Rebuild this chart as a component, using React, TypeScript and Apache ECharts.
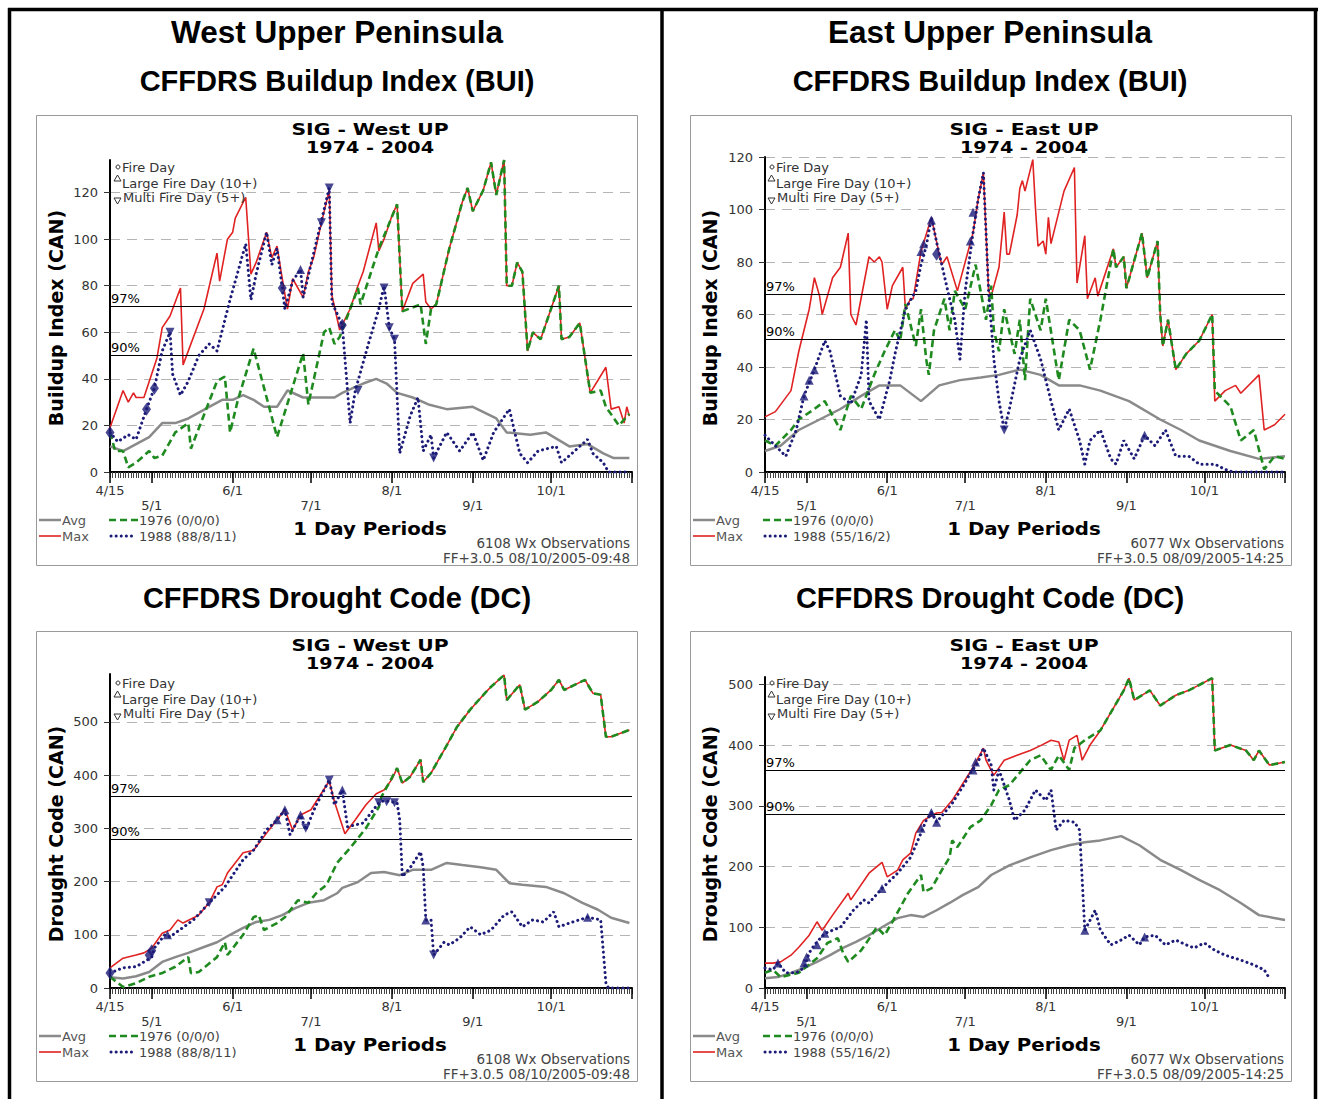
import React, { useEffect, useRef } from 'react';
import * as echarts from 'echarts';

// ---- axis ticks (days since 4/15) ----
const DATE_TICK_DAYS = [0, 16, 47, 77, 108, 139, 169];
const DATE_TICK_LABELS = ['4/15', '5/1', '6/1', '7/1', '8/1', '9/1', '10/1'];
const MONTH_TICK_DAYS = [0, 16, 47, 77, 108, 139, 169, 200];

// ---- West UP BUI ----
const WB_AVG = [[0,11],[5,9],[10,12],[15,15],[20,21],[25,21],[30,23],[38,28],[43,31],[47,31],[51,33],[55,31],[59,28],[64,28],[68,35],[74,32],[80,32],[86,32],[89,34],[93,36],[97,38],[102,40],[106,38],[110,34],[116,32],[122,29],[129,27],[139,28],[148,23],[152,17],[161,16],[167,17],[176,11],[183,12],[189,8],[193,6],[199,6]];
const WB_MAX = [[0,19],[5,35],[7,30],[9,34],[10,32],[13,32],[18,49],[20,62],[23,67],[27,79],[28,46],[36,70],[41,94],[42,82],[45,100],[47,103],[48,109],[52,118],[54,85],[56,90],[60,103],[62,92],[64,97],[66,83],[68,70],[70,83],[74,75],[76,86],[78,92],[81,107],[84,121],[85,76],[88,61],[92,70],[95,80],[97,86],[102,107],[103,95],[105,100],[108,110],[110,115],[112,69],[116,81],[120,85],[121,73],[123,70],[125,72],[130,96],[135,116],[137,122],[139,112],[143,121],[146,133],[148,119],[151,134],[152,80],[154,80],[156,90],[158,86],[160,52],[162,60],[165,57],[172,80],[173,57],[176,58],[180,64],[184,34],[190,45],[192,27],[195,28],[197,21],[198,28],[199,24]];
const WB_1976 = [[0,17],[2,9],[5,9],[7,2],[10,4],[15,9],[17,6],[20,7],[25,17],[30,21],[31,10],[41,39],[44,41],[46,17],[49,31],[55,53],[60,32],[64,15],[74,51],[76,29],[82,60],[84,62],[86,55],[88,58],[91,67],[95,79],[96,72],[103,96],[110,115],[112,69],[119,72],[121,55],[123,70],[125,72],[130,96],[135,116],[137,122],[139,112],[143,121],[146,133],[148,119],[151,134],[152,80],[154,80],[156,90],[158,86],[160,52],[162,60],[165,57],[172,80],[173,57],[176,58],[180,64],[184,34],[188,35],[190,28],[195,20],[199,25]];
const WB_1988 = [[0,17],[3,13],[7,16],[10,14],[14,27],[17,36],[20,52],[23,60],[24,42],[27,33],[30,39],[34,50],[38,55],[41,52],[46,74],[51,94],[52,98],[54,74],[56,85],[60,103],[62,89],[64,96],[66,79],[67,70],[70,82],[73,87],[74,75],[84,122],[85,73],[89,63],[92,21],[94,35],[99,55],[103,70],[105,80],[107,62],[109,57],[111,8],[115,24],[118,32],[120,9],[123,16],[124,6],[129,17],[134,9],[139,17],[143,5],[147,17],[153,27],[157,8],[160,4],[164,9],[171,11],[173,4],[179,10],[183,14],[185,8],[189,4],[191,0],[199,0]];
const WB_MARKERS = [[0,17,'dia'],[14,27,'dia'],[17,36,'dia'],[23,60,'inv'],[66,79,'dia'],[73,87,'tri'],[81,107,'inv'],[84,122,'inv'],[89,63,'dia'],[95,35,'inv'],[105,79,'inv'],[107,62,'inv'],[109,57,'inv'],[124,6,'inv']];

// ---- East UP BUI ----
const EB_AVG = [[0,8],[6,10],[13,16],[21,20],[29,24],[37,29],[44,33],[52,33],[60,27],[67,33],[75,35],[83,36],[90,37],[98,39],[106,37],[113,33],[121,33],[129,31],[140,27],[152,20],[160,16],[167,12],[179,8],[190,5],[200,6]];
const EB_MAX = [[0,21],[4,23],[10,31],[13,46],[17,62],[19,74],[21,67],[22,60],[26,74],[29,78],[32,91],[33,60],[35,56],[40,82],[42,80],[44,82],[45,80],[47,62],[49,71],[53,78],[54,62],[56,66],[57,66],[60,84],[64,97],[67,83],[68,79],[70,82],[74,69],[80,91],[82,104],[84,114],[86,69],[87,67],[90,78],[92,99],[93,83],[94,83],[97,98],[98,108],[99,111],[100,107],[103,119],[104,101],[105,86],[107,88],[108,83],[109,97],[110,87],[115,107],[119,116],[120,72],[123,90],[124,66],[127,74],[128,67],[134,85],[135,78],[138,82],[139,70],[145,91],[147,74],[151,88],[152,60],[153,48],[155,58],[158,39],[162,45],[167,50],[171,58],[172,60],[173,27],[177,31],[181,33],[183,30],[190,37],[192,16],[196,18],[200,22]];
const EB_1976 = [[0,12],[4,10],[10,16],[13,20],[19,24],[23,27],[29,16],[33,29],[37,24],[42,37],[46,46],[50,54],[52,50],[54,64],[58,48],[60,62],[62,43],[63,37],[65,54],[69,66],[71,54],[73,69],[77,62],[81,79],[85,58],[87,71],[88,54],[90,46],[92,62],[96,45],[98,58],[100,35],[102,66],[106,54],[108,66],[112,41],[113,35],[117,58],[121,54],[125,39],[129,58],[134,85],[135,78],[138,82],[139,70],[145,91],[147,74],[151,88],[152,60],[153,48],[155,58],[158,39],[162,45],[167,50],[171,58],[172,60],[173,31],[179,25],[183,12],[188,16],[192,1],[196,6],[200,5]];
const EB_1988 = [[0,14],[4,10],[8,6],[12,16],[15,29],[19,39],[23,50],[25,46],[29,29],[33,26],[37,37],[39,58],[40,27],[44,20],[48,35],[50,45],[54,62],[58,69],[60,79],[62,86],[64,97],[67,83],[68,79],[71,66],[73,58],[75,43],[77,69],[80,91],[82,104],[84,114],[86,69],[88,43],[90,27],[92,16],[94,24],[98,43],[102,54],[106,43],[110,27],[113,16],[117,24],[121,12],[123,3],[125,12],[129,16],[133,5],[135,3],[138,12],[142,5],[146,14],[150,10],[154,16],[158,6],[163,6],[167,3],[173,3],[177,1],[180,0],[200,0]];
const EB_MARKERS = [[15,29,'tri'],[17,35,'tri'],[19,39,'tri'],[60,84,'tri'],[61,87,'tri'],[64,96,'tri'],[66,83,'dia'],[79,88,'tri'],[80,99,'tri'],[92,16,'inv'],[146,14,'tri']];

// ---- West UP DC ----
const WD_AVG = [[0,20],[5,18],[10,22],[15,30],[20,49],[25,58],[30,66],[36,77],[41,86],[46,100],[51,113],[56,124],[61,128],[66,137],[71,150],[76,160],[82,165],[87,178],[89,188],[95,199],[100,216],[105,218],[111,212],[116,222],[123,222],[129,235],[135,231],[142,227],[148,222],[153,197],[158,194],[167,190],[174,178],[181,160],[187,147],[192,132],[199,122]];
const WD_MAX = [[0,38],[5,56],[10,62],[13,66],[16,75],[20,103],[23,109],[26,128],[28,122],[32,132],[34,137],[38,160],[41,190],[43,194],[45,216],[51,254],[55,259],[60,291],[64,316],[67,335],[70,297],[73,325],[77,335],[84,389],[86,350],[90,290],[94,316],[98,344],[102,365],[105,372],[108,392],[110,413],[112,385],[115,397],[119,429],[120,387],[123,404],[128,447],[133,491],[138,523],[144,556],[146,566],[151,588],[152,541],[157,570],[159,523],[164,538],[169,560],[172,579],[174,560],[182,579],[185,554],[188,551],[190,472],[192,472],[199,485]];
const WD_1976 = [[0,21],[5,2],[10,9],[15,21],[20,28],[25,40],[30,58],[31,28],[34,30],[41,58],[44,86],[45,62],[51,100],[55,133],[57,137],[59,109],[64,122],[67,133],[72,165],[76,160],[79,178],[83,194],[87,235],[92,263],[98,300],[103,340],[104,359],[110,413],[112,385],[115,397],[119,429],[120,387],[123,404],[128,447],[133,491],[138,523],[144,556],[146,566],[151,588],[152,541],[157,570],[159,523],[164,538],[169,560],[172,579],[174,560],[182,579],[185,554],[188,551],[190,472],[192,472],[199,485]];
const WD_1988 = [[0,28],[5,38],[10,40],[16,58],[17,75],[21,100],[23,96],[32,128],[38,160],[44,190],[51,241],[55,259],[60,297],[64,316],[67,335],[69,288],[73,325],[75,297],[79,344],[80,353],[84,391],[86,344],[89,372],[91,303],[97,310],[103,348],[105,352],[110,348],[111,316],[112,209],[115,226],[119,256],[120,227],[121,128],[123,128],[124,62],[128,86],[130,81],[134,94],[138,115],[142,100],[146,109],[151,137],[154,143],[158,115],[162,128],[166,124],[170,143],[172,115],[176,122],[183,133],[188,128],[190,9],[191,0],[199,0]];
const WD_MARKERS = [[0,28,'dia'],[15,62,'dia'],[16,70,'dia'],[22,100,'tri'],[38,160,'inv'],[64,316,'tri'],[67,335,'tri'],[73,325,'tri'],[75,300,'inv'],[84,391,'inv'],[89,372,'tri'],[103,348,'inv'],[106,350,'inv'],[109,348,'inv'],[121,128,'tri'],[124,62,'inv'],[183,133,'tri']];

// ---- East UP DC ----
const ED_AVG = [[0,16],[5,18],[10,25],[15,33],[20,43],[25,54],[30,66],[35,76],[40,87],[45,100],[51,115],[56,120],[61,117],[66,128],[71,140],[76,153],[82,166],[87,186],[94,202],[102,215],[110,227],[117,235],[123,240],[129,243],[137,250],[144,235],[152,211],[160,194],[167,178],[175,161],[183,140],[190,120],[200,112]];
const ED_MAX = [[0,41],[3,41],[6,43],[10,54],[13,67],[17,87],[20,109],[22,95],[26,120],[32,156],[33,145],[40,189],[45,207],[47,183],[51,194],[53,211],[56,222],[58,255],[61,276],[63,281],[66,288],[68,289],[72,309],[80,363],[84,395],[85,375],[88,350],[92,375],[98,385],[102,391],[106,399],[110,408],[113,405],[115,375],[117,408],[120,416],[122,375],[125,400],[129,424],[138,490],[140,510],[142,474],[148,490],[152,465],[158,482],[163,490],[172,510],[173,391],[179,400],[185,391],[188,375],[190,391],[194,367],[200,372]];
const ED_1976 = [[0,25],[3,30],[6,18],[13,25],[20,49],[24,74],[28,82],[30,58],[32,43],[37,62],[41,87],[43,100],[46,87],[49,109],[55,156],[60,186],[61,158],[64,164],[68,194],[71,215],[72,243],[74,232],[79,265],[83,276],[87,301],[90,326],[94,334],[102,375],[106,383],[110,359],[113,383],[117,359],[119,395],[123,408],[129,424],[138,490],[140,510],[142,474],[148,490],[152,465],[158,482],[163,490],[172,510],[173,391],[179,400],[185,391],[188,375],[190,391],[194,367],[200,372]];
const ED_1988 = [[0,33],[3,30],[5,41],[8,25],[12,25],[15,33],[17,58],[19,71],[23,90],[26,95],[29,100],[34,128],[38,145],[40,140],[45,164],[51,189],[56,215],[60,255],[62,276],[63,281],[64,289],[66,273],[72,304],[76,331],[79,354],[82,372],[84,395],[87,367],[88,326],[90,359],[94,309],[96,276],[100,293],[104,326],[108,309],[110,326],[112,260],[115,276],[119,273],[121,260],[123,95],[127,128],[129,95],[133,71],[137,79],[140,87],[144,71],[146,84],[150,87],[154,71],[158,79],[162,71],[165,66],[169,74],[173,62],[177,54],[183,46],[188,38],[192,30],[194,16]];
const ED_MARKERS = [[5,41,'tri'],[15,41,'tri'],[16,51,'tri'],[20,71,'tri'],[23,90,'tri'],[45,164,'tri'],[60,263,'tri'],[64,289,'tri'],[66,273,'tri'],[80,359,'tri'],[81,372,'tri'],[123,95,'tri'],[146,84,'tri']];

const SMALL = 'DejaVu Sans';
const HEAD = '"Liberation Sans", Arial, sans-serif';
const NAVY = '#1c1c78';
const RED = '#e02222';
const GREEN = '#1f8a1f';
const GRAY = '#8a8a8a';

const PANELS = [
  { bx: 36, by: 115, left: 110, top: 160, w: 522, h: 312, ymax: 134, yint: 20, p97: 71.3, p90: 50.2,
    yName: 'Buildup Index (CAN)', title: 'SIG - West UP', obs: '6108 Wx Observations', stamp: 'FF+3.0.5 08/10/2005-09:48',
    leg88: '1988 (88/8/11)', avg: WB_AVG, max: WB_MAX, y76: WB_1976, y88: WB_1988, mk: WB_MARKERS },
  { bx: 690, by: 115, left: 765, top: 157, w: 520, h: 315, ymax: 120, yint: 20, p97: 67.8, p90: 50.7,
    yName: 'Buildup Index (CAN)', title: 'SIG - East UP', obs: '6077 Wx Observations', stamp: 'FF+3.0.5 08/09/2005-14:25',
    leg88: '1988 (55/16/2)', avg: EB_AVG, max: EB_MAX, y76: EB_1976, y88: EB_1988, mk: EB_MARKERS },
  { bx: 36, by: 631, left: 110, top: 674, w: 522, h: 314, ymax: 590, yint: 100, p97: 361, p90: 280,
    yName: 'Drought Code (CAN)', title: 'SIG - West UP', obs: '6108 Wx Observations', stamp: 'FF+3.0.5 08/10/2005-09:48',
    leg88: '1988 (88/8/11)', avg: WD_AVG, max: WD_MAX, y76: WD_1976, y88: WD_1988, mk: WD_MARKERS },
  { bx: 690, by: 631, left: 765, top: 677, w: 520, h: 311, ymax: 512, yint: 100, p97: 358.6, p90: 286,
    yName: 'Drought Code (CAN)', title: 'SIG - East UP', obs: '6077 Wx Observations', stamp: 'FF+3.0.5 08/09/2005-14:25',
    leg88: '1988 (55/16/2)', avg: ED_AVG, max: ED_MAX, y76: ED_1976, y88: ED_1988, mk: ED_MARKERS },
];

function txt(x: number, y: number, text: string, font: string, fill = '#000', align = 'left', extra: any = {}) {
  return { type: 'text', x, y, z: 20, ...extra, style: { text, font, fill, align, verticalAlign: 'middle' } };
}

function buildOption() {
  const grid: any[] = [];
  const xAxis: any[] = [];
  const yAxis: any[] = [];
  const series: any[] = [];
  const graphic: any[] = [];

  // page frame
  graphic.push({ type: 'line', shape: { x1: 8, y1: 9.5, x2: 1318, y2: 9.5 }, style: { stroke: '#000', lineWidth: 3.5 } });
  [9.5, 662, 1315.5].forEach((x) =>
    graphic.push({ type: 'line', shape: { x1: x, y1: 8, x2: x, y2: 1099 }, style: { stroke: '#000', lineWidth: 3.5 } })
  );
  // headings
  [[337, 'West Upper Peninsula'], [990, 'East Upper Peninsula']].forEach(([x, t]: any) => {
    graphic.push(txt(x, 32, t, `bold 31.5px ${HEAD}`, '#000', 'center'));
    graphic.push(txt(x, 81, 'CFFDRS Buildup Index (BUI)', `bold 29px ${HEAD}`, '#000', 'center'));
    graphic.push(txt(x, 598, 'CFFDRS Drought Code (DC)', `bold 29px ${HEAD}`, '#000', 'center'));
  });

  PANELS.forEach((p, i) => {
    const { bx, by } = p;
    grid.push({ left: p.left, top: p.top, width: p.w, height: p.h, containLabel: false });
    const yTicks: number[] = [];
    for (let v = 0; v <= p.ymax; v += p.yint) yTicks.push(v);

    xAxis.push({
      type: 'value', gridIndex: i, position: 'bottom', min: 0, max: 200, interval: 1,
      axisLine: { show: true, onZero: false, lineStyle: { color: '#000', width: 2 } },
      axisTick: { show: true, length: 6, lineStyle: { color: '#444', width: 1 } },
      axisLabel: {
        show: true, customValues: DATE_TICK_DAYS, margin: 11, lineHeight: 15,
        fontSize: 13, fontFamily: SMALL, color: '#333',
        formatter: (v: number) => {
          const k = DATE_TICK_DAYS.indexOf(v);
          if (k < 0) return '';
          return k % 2 ? '\n' + DATE_TICK_LABELS[k] : DATE_TICK_LABELS[k];
        },
      },
      splitLine: { show: false },
    });
    xAxis.push({
      type: 'value', gridIndex: i, position: 'bottom', min: 0, max: 200, interval: 1,
      axisLine: { show: false },
      axisTick: { show: true, customValues: MONTH_TICK_DAYS, length: 11, lineStyle: { color: '#000', width: 1.5 } },
      axisLabel: { show: false },
      splitLine: { show: false },
    });
    yAxis.push({
      type: 'value', gridIndex: i, min: 0, max: p.ymax, interval: p.yint,
      axisLine: { show: true, onZero: false, lineStyle: { color: '#000', width: 2 } },
      axisTick: { show: true, customValues: yTicks, length: 6, lineStyle: { color: '#333', width: 1 } },
      axisLabel: { show: true, customValues: yTicks, margin: 12, fontSize: 13, fontFamily: SMALL, color: '#333' },
      splitLine: { show: true, showMinLine: false, lineStyle: { color: '#b4b4b4', width: 1, type: [10, 7] } },
    });

    const xi = 2 * i;
    series.push({
      type: 'line', xAxisIndex: xi, yAxisIndex: i, data: p.avg, showSymbol: false, symbol: 'none',
      lineStyle: { color: GRAY, width: 2.5 }, z: 2,
      markLine: {
        silent: true, symbol: 'none', animation: false,
        lineStyle: { color: '#000', type: 'solid', width: 1 },
        label: { show: true, position: 'insideStartTop', formatter: (q: any) => q.name, color: '#000', fontSize: 13, fontFamily: SMALL, distance: [1, 1] },
        emphasis: { disabled: true },
        data: [{ name: '97%', yAxis: p.p97 }, { name: '90%', yAxis: p.p90 }],
      },
    });
    series.push({ type: 'line', xAxisIndex: xi, yAxisIndex: i, data: p.max, symbol: 'none', lineStyle: { color: RED, width: 1.6 }, z: 3 });
    series.push({ type: 'line', xAxisIndex: xi, yAxisIndex: i, data: p.y76, symbol: 'none', lineStyle: { color: GREEN, width: 2.6, type: [7, 4] }, z: 4 });
    series.push({ type: 'line', xAxisIndex: xi, yAxisIndex: i, data: p.y88, symbol: 'none', lineStyle: { color: NAVY, width: 3, type: [0.1, 5], cap: 'round' }, z: 5 });
    series.push({
      type: 'scatter', xAxisIndex: xi, yAxisIndex: i, z: 6,
      itemStyle: { color: NAVY },
      data: p.mk.map((m: any) => ({
        value: [m[0], m[1]],
        symbol: m[2] === 'dia' ? 'diamond' : 'triangle',
        symbolRotate: m[2] === 'inv' ? 180 : 0,
        symbolSize: m[2] === 'dia' ? [9, 13] : 9,
      })),
    });

    // panel box
    graphic.push({ type: 'rect', shape: { x: bx + 0.5, y: by + 0.5, width: 601, height: 450 }, style: { fill: 'none', stroke: '#9a9a9a', lineWidth: 1 } });
    // chart title lines (wide bold face, stretched horizontally like the original)
    graphic.push(txt(bx + 334, by + 14, p.title, `bold 16px "${SMALL}"`, '#000', 'center', { scaleX: 1.27 }));
    graphic.push(txt(bx + 334, by + 33, '1974 - 2004', `bold 16px "${SMALL}"`, '#000', 'center', { scaleX: 1.2 }));
    // fire-day key
    graphic.push({ type: 'circle', z: 20, shape: { cx: bx + 82, cy: by + 52, r: 2 }, style: { fill: 'none', stroke: '#333', lineWidth: 1 } });
    graphic.push({ type: 'polygon', z: 20, shape: { points: [[bx + 78, by + 66], [bx + 81.5, by + 60], [bx + 85, by + 66]] }, style: { fill: 'none', stroke: '#333', lineWidth: 1 } });
    graphic.push({ type: 'polygon', z: 20, shape: { points: [[bx + 78, by + 83], [bx + 85, by + 83], [bx + 81.5, by + 89]] }, style: { fill: 'none', stroke: '#333', lineWidth: 1 } });
    graphic.push(txt(bx + 86, by + 52, 'Fire Day', `13px "${SMALL}"`, '#333'));
    graphic.push(txt(bx + 86, by + 68, 'Large Fire Day (10+)', `13px "${SMALL}"`, '#333'));
    graphic.push(txt(bx + 87, by + 82, 'Multi Fire Day (5+)', `13px "${SMALL}"`, '#333'));
    // y axis name
    graphic.push(txt(bx + 20, by + 203, p.yName, `bold 19px "${SMALL}"`, '#000', 'center', { rotation: Math.PI / 2 }));
    // x axis title + stamps
    graphic.push(txt(bx + 334, by + 414, '1 Day Periods', `bold 17.5px "${SMALL}"`, '#000', 'center', { scaleX: 1.13 }));
    graphic.push(txt(bx + 594, by + 428, p.obs, `13.5px "${SMALL}"`, '#444', 'right'));
    graphic.push(txt(bx + 594, by + 443, p.stamp, `13.5px "${SMALL}"`, '#444', 'right'));
    // bottom legend
    graphic.push({ type: 'line', z: 20, shape: { x1: bx + 3, y1: by + 405, x2: bx + 25, y2: by + 405 }, style: { stroke: GRAY, lineWidth: 2.5 } });
    graphic.push({ type: 'line', z: 20, shape: { x1: bx + 3, y1: by + 421, x2: bx + 25, y2: by + 421 }, style: { stroke: RED, lineWidth: 1.6 } });
    graphic.push({ type: 'line', z: 20, shape: { x1: bx + 73, y1: by + 405, x2: bx + 102, y2: by + 405 }, style: { stroke: GREEN, lineWidth: 2.6, lineDash: [7, 4] } });
    graphic.push({ type: 'line', z: 20, shape: { x1: bx + 75, y1: by + 421, x2: bx + 100, y2: by + 421 }, style: { stroke: NAVY, lineWidth: 3, lineDash: [0.1, 5], lineCap: 'round' } });
    graphic.push(txt(bx + 26, by + 405, 'Avg', `13px "${SMALL}"`, '#555'));
    graphic.push(txt(bx + 26, by + 421, 'Max', `13px "${SMALL}"`, '#555'));
    graphic.push(txt(bx + 103, by + 405, '1976 (0/0/0)', `13px "${SMALL}"`, '#444'));
    graphic.push(txt(bx + 103, by + 421, p.leg88, `13px "${SMALL}"`, '#444'));
  });

  return {
    animation: false,
    backgroundColor: '#ffffff',
    textStyle: { fontFamily: SMALL },
    grid, xAxis, yAxis, series, graphic,
  };
}

export default function App() {
  const ref = useRef<HTMLDivElement>(null);
  useEffect(() => {
    if (!ref.current) return;
    const chart = echarts.init(ref.current, undefined, { renderer: 'svg' });
    chart.setOption(buildOption() as any);
    return () => chart.dispose();
  }, []);
  return <div ref={ref} style={{ position: 'absolute', left: 0, top: 0, width: 1319, height: 1099 }} />;
}
